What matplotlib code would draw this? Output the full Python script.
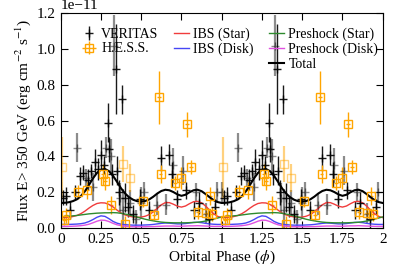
import numpy as np
import matplotlib
matplotlib.use("Agg")
import matplotlib.pyplot as plt
from matplotlib.lines import Line2D

plt.rcParams['font.family'] = ['Liberation Serif', 'DejaVu Serif']
plt.rcParams['mathtext.fontset'] = 'stix'
plt.rcParams['font.size'] = 11

SCALE = 1e-11

# ---- model curves (one orbit, phase 0..1), units of 1e-11 erg cm^-2 s^-1 ----
model_phase = [0.0, 0.025, 0.05, 0.075, 0.1, 0.125, 0.15, 0.175, 0.2, 0.225,
               0.25, 0.275, 0.3, 0.325, 0.35, 0.375, 0.4, 0.425, 0.45, 0.475,
               0.5, 0.525, 0.55, 0.575, 0.6, 0.625, 0.65, 0.675, 0.7, 0.725,
               0.75, 0.775, 0.8, 0.825, 0.85, 0.875, 0.9, 0.925, 0.95, 0.975, 1.0]
total = [0.140, 0.141, 0.144, 0.150, 0.160, 0.178, 0.205, 0.240, 0.277, 0.308,
         0.326, 0.330, 0.318, 0.292, 0.258, 0.222, 0.193, 0.172, 0.158, 0.150,
         0.148, 0.151, 0.160, 0.175, 0.193, 0.207, 0.214, 0.211, 0.201, 0.188,
         0.180, 0.186, 0.200, 0.211, 0.214, 0.206, 0.190, 0.172, 0.156, 0.145, 0.140]
ibs_star = [0.058, 0.058, 0.060, 0.064, 0.070, 0.080, 0.094, 0.111, 0.126, 0.137,
            0.141, 0.140, 0.132, 0.118, 0.100, 0.084, 0.073, 0.066, 0.062, 0.060,
            0.061, 0.066, 0.075, 0.090, 0.110, 0.130, 0.142, 0.142, 0.133, 0.122,
            0.117, 0.123, 0.136, 0.147, 0.149, 0.141, 0.123, 0.100, 0.080, 0.065, 0.058]
ibs_disk = [0.020, 0.020, 0.020, 0.021, 0.022, 0.024, 0.028, 0.036, 0.047, 0.060,
            0.068, 0.065, 0.052, 0.037, 0.027, 0.021, 0.018, 0.017, 0.016, 0.016,
            0.016, 0.017, 0.018, 0.020, 0.023, 0.026, 0.028, 0.027, 0.025, 0.023,
            0.023, 0.025, 0.028, 0.031, 0.032, 0.030, 0.026, 0.023, 0.021, 0.020, 0.020]
pre_star = [0.062, 0.064, 0.066, 0.068, 0.070, 0.073, 0.076, 0.079, 0.081, 0.083,
            0.084, 0.085, 0.085, 0.086, 0.085, 0.082, 0.078, 0.073, 0.067, 0.061,
            0.055, 0.049, 0.044, 0.040, 0.036, 0.033, 0.031, 0.030, 0.029, 0.029,
            0.029, 0.029, 0.030, 0.031, 0.032, 0.035, 0.039, 0.044, 0.050, 0.056, 0.062]
pre_disk = [0.009, 0.009, 0.009, 0.010, 0.011, 0.013, 0.016, 0.021, 0.029, 0.038,
            0.044, 0.043, 0.036, 0.026, 0.018, 0.013, 0.010, 0.008, 0.007, 0.007,
            0.007, 0.007, 0.008, 0.008, 0.009, 0.010, 0.011, 0.011, 0.011, 0.010,
            0.010, 0.011, 0.012, 0.012, 0.013, 0.012, 0.011, 0.010, 0.009, 0.009, 0.009]

# ---- VERITAS (one orbit); strong points ----
ver_phase = [0.015, 0.03, 0.06, 0.09, 0.12, 0.14, 0.17, 0.19, 0.21, 0.23,
             0.25, 0.27, 0.296, 0.30, 0.32, 0.345, 0.35, 0.365, 0.38, 0.40,
             0.42, 0.45, 0.49, 0.55, 0.62, 0.675, 0.69, 0.72, 0.78, 0.83,
             0.86, 0.92, 0.96]
ver_flux = [0.17, 0.18, 0.10, 0.20, 0.29, 0.31, 0.27, 0.32, 0.37, 0.33,
            0.41, 0.35, 0.59, 0.44, 0.30, 0.89, 0.32, 0.20, 0.72, 0.17,
            0.12, 0.08, 0.16, 0.10, 0.39, 0.41, 0.30, 0.16, 0.21, 0.10,
            0.14, 0.05, 0.12]
ver_err = [0.04, 0.05, 0.05, 0.04, 0.05, 0.04, 0.06, 0.04, 0.07, 0.06,
           0.08, 0.05, 0.11, 0.07, 0.06, 0.25, 0.08, 0.07, 0.08, 0.08,
           0.06, 0.05, 0.06, 0.05, 0.07, 0.06, 0.07, 0.05, 0.05, 0.05,
           0.06, 0.05, 0.04]
# ---- VERITAS (one orbit); faint points ----
verf_phase = [0.005, 0.10, 0.16, 0.20, 0.28, 0.315, 0.333, 0.37, 0.385, 0.43,
              0.47, 0.50, 0.52, 0.60, 0.655, 0.70, 0.76, 0.84, 0.90, 0.97]
verf_flux = [0.20, 0.45, 0.28, 0.23, 0.45, 0.40, 1.02, 0.17, 0.10, 0.14,
             0.05, 0.14, 0.20, 0.13, 0.13, 0.35, 0.32, 0.20, 0.08, 0.20]
verf_err = [0.06, 0.08, 0.05, 0.08, 0.06, 0.10, 0.17, 0.08, 0.12, 0.07,
            0.05, 0.09, 0.06, 0.06, 0.06, 0.10, 0.08, 0.05, 0.06, 0.06]

# ---- H.E.S.S. (one orbit); strong and faint points ----
hess_phase = [0.02, 0.035, 0.11, 0.165, 0.26, 0.275, 0.31, 0.40, 0.51, 0.58,
              0.61, 0.62, 0.71, 0.745, 0.785, 0.81, 0.855, 0.905, 0.93, 0.94]
hess_flux = [0.045, 0.07, 0.20, 0.21, 0.30, 0.265, 0.13, 0.025, 0.15, 0.075,
             0.73, 0.30, 0.25, 0.28, 0.58, 0.34, 0.09, 0.085, 0.18, 0.08]
hess_err = [0.03, 0.04, 0.04, 0.05, 0.06, 0.05, 0.05, 0.04, 0.03, 0.03,
            0.15, 0.05, 0.04, 0.06, 0.07, 0.04, 0.04, 0.03, 0.05, 0.04]
hessf_phase = [0.01, 0.39, 0.43]
hessf_flux = [0.34, 0.36, 0.28]
hessf_err = [0.17, 0.10, 0.08]

x_ticks = [0, 0.25, 0.5, 0.75, 1, 1.25, 1.5, 1.75, 2]
x_ticklabels = ['0', '0.25', '0.5', '0.75', '1', '1.25', '1.5', '1.75', '2']


def two_orbits(ph, vals, drop_last=False):
    ph = np.asarray(ph, float)
    vals = np.asarray(vals, float)
    if drop_last:
        return np.concatenate([ph, ph[1:] + 1]), np.concatenate([vals, vals[1:]])
    return np.concatenate([ph, ph + 1]), np.concatenate([vals, vals])


fig = plt.figure(figsize=(4.03, 2.69), dpi=100)
ax = fig.add_axes([0.1506, 0.1524, 0.799, 0.7976])

ORANGE = '#ffa500'

# faint VERITAS
px, fy = two_orbits(verf_phase, verf_flux)
_, fe = two_orbits(verf_phase, verf_err)
ax.errorbar(px, fy * SCALE, yerr=fe * SCALE, fmt='+', color='black', alpha=0.45,
            ms=6, elinewidth=1.6, mew=1.0, capsize=0)
# faint HESS
px, fy = two_orbits(hessf_phase, hessf_flux)
_, fe = two_orbits(hessf_phase, hessf_err)
ax.errorbar(px, fy * SCALE, yerr=fe * SCALE, fmt='s', color=ORANGE, mfc='none', alpha=0.5,
            ms=6, elinewidth=1.6, mew=1.0, capsize=0)
# VERITAS
px, fy = two_orbits(ver_phase, ver_flux)
_, fe = two_orbits(ver_phase, ver_err)
h_ver = ax.errorbar(px, fy * SCALE, yerr=fe * SCALE, fmt='+', color='black',
                    ms=6, elinewidth=1.0, mew=1.0, capsize=0, alpha=0.9)
# HESS
px, fy = two_orbits(hess_phase, hess_flux)
_, fe = two_orbits(hess_phase, hess_err)
h_hess = ax.errorbar(px, fy * SCALE, yerr=fe * SCALE, xerr=0.012, fmt='s', color=ORANGE,
                     mfc='none', ms=6, elinewidth=1.0, mew=1.0, capsize=0)

# model curves
curves = [(ibs_star, '#f03c3c', 'IBS (Star)', 1.0),
          (ibs_disk, '#4646f5', 'IBS (Disk)', 1.0),
          (pre_star, '#2e8b2e', 'Preshock (Star)', 1.0),
          (pre_disk, '#e050e0', 'Preshock (Disk)', 1.0),
          (total, 'black', 'Total', 1.5)]
handles = {}
for vals, col, lab, lw in curves:
    px, fy = two_orbits(model_phase, vals, drop_last=True)
    handles[lab], = ax.plot(px, fy * SCALE, color=col, lw=lw, label=lab)

blank = Line2D([], [], linestyle='none', marker=None)
hl = [h_ver, h_hess, blank,
      handles['IBS (Star)'], handles['IBS (Disk)'], blank,
      handles['Preshock (Star)'], handles['Preshock (Disk)'], handles['Total']]
labels = ['VERITAS', 'H.E.S.S.', '', 'IBS (Star)', 'IBS (Disk)', '',
          'Preshock (Star)', 'Preshock (Disk)', 'Total']
ax.legend(hl, labels, ncol=3, loc='upper left', bbox_to_anchor=(0.065, 0.935),
          frameon=False, fontsize=10, handlelength=1.1, handletextpad=0.3,
          columnspacing=1.1, labelspacing=0.12, borderaxespad=0.0, borderpad=0.0)

ax.set_xlim(0, 2)
ax.set_ylim(0, 1.2e-11)
ax.set_xticks(x_ticks)
ax.set_xticklabels(x_ticklabels)
ax.set_yticks(np.arange(0, 1.21, 0.2) * SCALE)
ax.tick_params(direction='in', top=True, right=True, length=5, labelsize=11)
ax.yaxis.get_offset_text().set_fontsize(11)
ax.set_xlabel(r'Orbital Phase ($\phi$)', fontsize=11, labelpad=2)
ax.set_ylabel(r'Flux E> 350 GeV (erg cm$^{-2}$ s$^{-1}$)', fontsize=11, labelpad=3)

fig.savefig('out.png', dpi=100)
